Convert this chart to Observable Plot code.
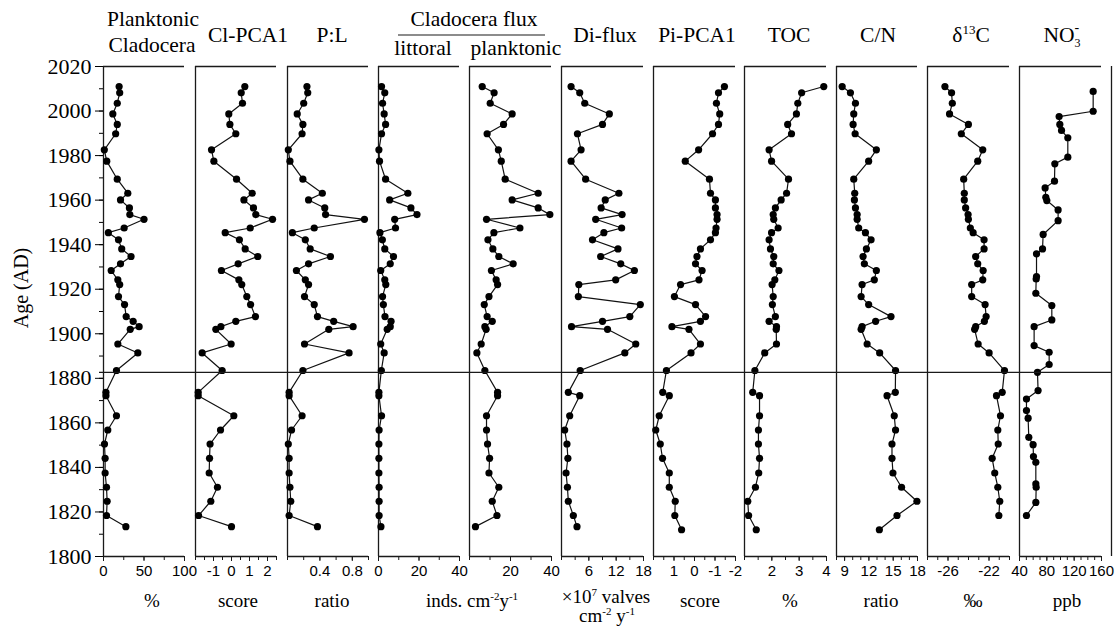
<!DOCTYPE html>
<html>
<head>
<meta charset="utf-8">
<script src="https://cdn.jsdelivr.net/npm/d3@7"></script>
<script src="https://cdn.jsdelivr.net/npm/@observablehq/plot@0.6"></script>
<style>
  body { margin: 0; background: #fff; }
  #chart { position: relative; width: 1120px; height: 626px; overflow: hidden; background: #fff; }
  #chart svg { position: absolute; top: 0; }
</style>
</head>
<body>
<div id="chart"></div>
<script>
// ---------------- data ----------------
const ageClad = [2011.0, 2008.2, 2003.5, 1998.7, 1994.0, 1989.8, 1982.6, 1977.5, 1969.4, 1963.1, 1960.1, 1956.5, 1953.5, 1951.4, 1947.5, 1945.4, 1942.2, 1938.1, 1934.7, 1931.4, 1928.4, 1924.2, 1922.1, 1916.7, 1913.1, 1907.7, 1905.6, 1903.2, 1902.0, 1895.4, 1891.4, 1883.5, 1873.7, 1872.2, 1863.2, 1856.8, 1850.5, 1844.1, 1837.5, 1831.1, 1824.8, 1818.4, 1813.4];
const ageSed = [2011.0, 2008.2, 2003.5, 1998.7, 1994.0, 1989.8, 1982.6, 1977.5, 1969.4, 1963.1, 1960.1, 1956.5, 1953.5, 1951.4, 1947.5, 1945.4, 1942.2, 1938.1, 1934.7, 1931.4, 1928.4, 1924.2, 1922.1, 1916.7, 1913.1, 1907.7, 1905.6, 1903.2, 1902.0, 1895.4, 1891.4, 1883.5, 1873.7, 1872.2, 1863.2, 1856.8, 1850.5, 1844.1, 1837.5, 1831.1, 1824.8, 1818.4, 1812.0];
const ageIso = [2011.0, 2008.2, 2003.5, 1998.7, 1994.0, 1989.8, 1982.6, 1977.5, 1969.4, 1963.1, 1960.1, 1956.5, 1953.5, 1951.4, 1947.5, 1945.4, 1942.2, 1938.1, 1934.7, 1931.4, 1928.4, 1924.2, 1922.1, 1916.7, 1913.1, 1907.7, 1905.6, 1903.2, 1902.0, 1895.4, 1891.4, 1883.5, 1873.7, 1872.2, 1863.2, 1856.8, 1850.5, 1844.1, 1837.5, 1831.1, 1824.8, 1818.4];
const ageNO3 = [2008.8, 1999.9, 1997.5, 1994.0, 1991.3, 1988.0, 1979.3, 1976.3, 1968.5, 1965.5, 1961.3, 1959.8, 1955.6, 1950.8, 1944.6, 1938.1, 1935.9, 1925.7, 1924.6, 1918.2, 1912.7, 1906.2, 1903.2, 1894.7, 1891.7, 1886.2, 1882.7, 1874.5, 1870.7, 1865.5, 1862.1, 1853.5, 1850.2, 1844.9, 1842.3, 1832.6, 1831.1, 1824.3, 1818.4];

const planktonicPct = [19.3, 20, 17, 11.5, 17, 15, 1, 4, 17, 30, 21, 32, 32.5, 50, 25.5, 6, 18.5, 22.5, 34, 21, 9.5, 17.7, 20, 18.5, 26, 28, 36.6, 44, 33, 17.7, 42.4, 16, 3, 3, 16, 5.3, 1.2, 2, 2, 3.7, 4.5, 3.7, 27.6];
const clPCA1 = [0.74, 0.54, 0.61, -0.15, -0.09, 0.24, -1.11, -0.98, 0.28, 1.15, 0.69, 1.22, 1.35, 2.28, 1.04, -0.35, 0.44, 0.76, 1.46, 0.37, -0.56, 0.41, 0.57, 0.85, 1.06, 1.33, 0.24, -0.59, -0.87, -0.02, -1.63, -0.52, -1.85, -1.85, 0.13, -0.61, -1.19, -1.22, -1.24, -0.78, -1.15, -1.83, 0.0];
const plRatio = [0.24, 0.25, 0.20, 0.12, 0.19, 0.18, 0.01, 0.03, 0.19, 0.43, 0.26, 0.46, 0.47, 0.95, 0.33, 0.06, 0.22, 0.28, 0.53, 0.26, 0.11, 0.22, 0.26, 0.21, 0.33, 0.37, 0.57, 0.81, 0.51, 0.21, 0.76, 0.19, 0.02, 0.02, 0.18, 0.05, 0.01, 0.02, 0.02, 0.03, 0.04, 0.02, 0.37];
const littoralFlux = [1.5, 3.1, 2.0, 2.8, 3.5, 1.5, 0.2, 0.5, 3.5, 14.5, 5.5, 16, 19.0, 8.0, 8.4, 0.7, 1.9, 3.1, 7.4, 5.8, 1.1, 3.1, 3.6, 2.0, 2.4, 3.2, 6.2, 5.8, 4.3, 1.1, 2.8, 1.4, 0.2, 0.2, 1.5, 0.3, 0.2, 0.2, 0.2, 0.3, 0.3, 0.3, 1.2];
const planktonicFlux = [6.2, 12.0, 10.1, 20.8, 16.6, 8.6, 14.1, 15.5, 17.4, 33.5, 20.8, 33.5, 39.2, 8.3, 24.6, 11.9, 9.0, 11.4, 14.3, 21.3, 10.7, 13.0, 13.7, 9.5, 7.2, 8.6, 11.1, 7.5, 8.1, 5.7, 3.6, 7.5, 13.7, 13.7, 8.3, 8.3, 8.8, 9.8, 9.5, 14.3, 11.1, 13.4, 2.9];
const diFlux = [2.1, 4.0, 5.1, 10.5, 9.0, 3.5, 4.3, 2.1, 5.3, 12.6, 9.6, 8.7, 13.3, 7.5, 13.2, 9.3, 6.8, 12.4, 8.6, 13.0, 16.0, 11.9, 3.8, 3.7, 17.3, 15.0, 9.0, 2.2, 10.1, 16.3, 13.9, 4.1, 1.5, 4.0, 1.8, 0.7, 1.2, 1.4, 1.0, 1.3, 1.5, 2.6, 3.4];
const piPCA1 = [-1.46, -1.17, -1.07, -1.23, -1.17, -0.88, -0.20, 0.45, -0.73, -0.78, -1.02, -1.02, -1.10, -1.10, -1.05, -1.02, -0.78, -0.29, -0.12, -0.05, -0.37, -0.22, 0.68, 0.98, -0.05, -0.54, -0.29, 1.10, 0.27, -0.29, 0.17, 1.37, 1.55, 1.23, 1.72, 1.89, 1.67, 1.56, 1.23, 1.23, 0.94, 0.96, 0.63];
const toc = [3.90, 3.09, 2.95, 2.90, 2.58, 2.72, 1.90, 1.99, 2.61, 2.54, 2.34, 2.13, 2.05, 2.07, 2.23, 1.99, 1.90, 1.95, 2.07, 2.05, 2.26, 2.11, 2.01, 2.05, 2.02, 2.13, 1.90, 2.17, 2.16, 2.17, 1.74, 1.38, 1.30, 1.55, 1.55, 1.51, 1.51, 1.55, 1.52, 1.40, 1.12, 1.15, 1.43];
const cnRatio = [8.70, 9.72, 10.34, 10.13, 10.05, 10.30, 12.92, 11.97, 10.13, 10.25, 10.21, 10.34, 10.55, 10.55, 10.74, 11.57, 12.27, 11.69, 11.28, 11.44, 12.92, 12.67, 11.16, 11.04, 11.97, 14.73, 12.83, 11.16, 11.04, 11.78, 13.33, 15.29, 15.26, 14.24, 15.13, 15.29, 14.85, 14.85, 14.97, 16.03, 17.93, 15.47, 13.29];
const d13C = [-26.30, -25.65, -25.58, -25.85, -24.01, -24.70, -22.61, -23.10, -24.47, -24.41, -24.41, -24.28, -24.04, -24.01, -23.82, -23.55, -22.48, -22.48, -23.30, -23.10, -22.57, -22.61, -23.69, -23.69, -22.38, -22.28, -22.45, -23.30, -23.40, -23.06, -21.99, -20.49, -20.71, -21.27, -20.88, -21.14, -21.10, -21.69, -21.44, -21.14, -20.95, -21.04];
const no3 = [147.8, 147.8, 98.0, 99.0, 101.5, 110.7, 110.7, 91.7, 91.2, 77.5, 78.5, 80.0, 96.5, 96.5, 74.6, 73.7, 64.9, 64.9, 64.4, 63.9, 87.3, 87.3, 61.4, 61.4, 83.4, 83.4, 66.3, 67.2, 50.2, 50.2, 52.6, 53.6, 59.9, 60.4, 63.9, 63.9, 64.4, 63.9, 50.2];

// tick labels
const yTickLabels = [1800, 1820, 1840, 1860, 1880, 1900, 1920, 1940, 1960, 1980, 2000, 2020];
const boundaryAge = [1882.7];

// ---------------- layout ----------------
const H = 626, TOP = 66, BOTTOM = 556;
const yDomain = [1800, 2020];

const panels = [
  {ages: ageClad, values: planktonicPct, left: 103, right: 184, domain: [0, 100], labels: [0, 50, 100], minor: d3.range(0, 101, 25)},
  {ages: ageClad, values: clPCA1, left: 195, right: 276, domain: [-2, 2.5], labels: [-1, 0, 1, 2], minor: d3.range(-2, 2.51, 0.5)},
  {ages: ageClad, values: plRatio, left: 287, right: 368, domain: [0, 1], labels: [0.4, 0.8], minor: d3.range(0, 1.01, 0.2)},
  {ages: ageClad, values: littoralFlux, left: 378, right: 459, domain: [0, 40], labels: [0, 20, 40], minor: d3.range(0, 41, 10)},
  {ages: ageClad, values: planktonicFlux, left: 469, right: 551, domain: [0, 40], labels: [20, 40], minor: d3.range(0, 41, 10)},
  {ages: ageClad, values: diFlux, left: 561, right: 643, domain: [0, 18], labels: [6, 12, 18], minor: d3.range(0, 18.1, 3)},
  {ages: ageSed, values: piPCA1, left: 653, right: 735, domain: [2, -2], labels: [1, 0, -1, -2], minor: d3.range(-2, 2.01, 0.5)},
  {ages: ageSed, values: toc, left: 744, right: 826, domain: [1, 4], labels: [2, 3, 4], minor: d3.range(1, 4.01, 0.5)},
  {ages: ageSed, values: cnRatio, left: 836, right: 917, domain: [8, 18], labels: [9, 12, 15, 18], minor: d3.range(8, 18.1, 1)},
  {ages: ageIso, values: d13C, left: 927, right: 1009, domain: [-28, -20], labels: [-26, -22], minor: d3.range(-28, -19.9, 1)},
  {ages: ageNO3, values: no3, left: 1019, right: 1101, domain: [40, 160], labels: [40, 80, 120, 160], minor: d3.range(40, 161, 10)}
];

const chart = document.getElementById("chart");
const frameStyle = {stroke: "#1a1a1a", strokeWidth: 1.3};

panels.forEach((p, i) => {
  const mL = i === 0 ? p.left : 10;
  const mR = 10;
  const width = p.right - p.left + mL + mR;
  const data = p.ages.map((a, j) => ({age: a, v: p.values[j]}));
  const marks = [
    Plot.ruleY([yDomain[1]], frameStyle),
    Plot.ruleY([yDomain[0]], frameStyle),
    Plot.ruleX([p.domain[0]], frameStyle),
    Plot.axisX({ticks: p.minor, tickSize: 4, tickFormat: () => "", label: null, stroke: "#1a1a1a"}),
    Plot.axisX({ticks: p.labels, tickSize: 5, tickPadding: 4, tickFormat: d => String(d), label: null,
      fontSize: 15, fontFamily: "Liberation Sans", stroke: "#1a1a1a"}),
    Plot.line(data, {x: "v", y: "age", stroke: "#111", strokeWidth: 1.2}),
    Plot.dot(data, {x: "v", y: "age", r: 3.6, fill: "#000"})
  ];
  if (i === 0) {
    marks.push(
      Plot.axisY({ticks: yTickLabels, tickSize: 8, tickPadding: 4, label: null, tickFormat: d => String(d),
        fontSize: 22, fontFamily: "Liberation Serif"}),
      Plot.axisY({ticks: d3.range(1800, 2021, 10), tickSize: 4, tickFormat: () => "", label: null})
    );
  }
  const svg = Plot.plot({
    width, height: H,
    marginLeft: mL, marginRight: mR, marginTop: TOP, marginBottom: H - BOTTOM,
    x: {domain: p.domain, label: null},
    y: {domain: yDomain, label: null, axis: i === 0 ? undefined : null},
    style: {background: "transparent", overflow: "visible", fontFamily: "Liberation Sans", fontSize: "15px", color: "#000"},
    marks
  });
  svg.style.left = (p.left - mL) + "px";
  chart.appendChild(svg);
});

// boundary line across all panels and right border
{
  const mL = 99, mR = 9;
  const svg = Plot.plot({
    width: 1120, height: H,
    marginLeft: mL, marginRight: mR, marginTop: TOP, marginBottom: H - BOTTOM,
    x: {domain: [0, 1], axis: null},
    y: {domain: yDomain, axis: null},
    style: {background: "transparent", overflow: "visible"},
    marks: [
      Plot.ruleY(boundaryAge, {stroke: "#1a1a1a", strokeWidth: 1.3}),
      Plot.ruleX([1], frameStyle)
    ]
  });
  svg.style.left = "0px";
  chart.appendChild(svg);
}

// ---------------- text (titles / units) ----------------
const ov = d3.create("svg").attr("width", 1120).attr("height", H)
  .style("left", "0px").style("top", "0px")
  .attr("font-family", "Liberation Serif").attr("fill", "#000");

function txt(x, y, size, parts) {
  const t = ov.append("text").attr("x", x).attr("y", y).attr("font-size", size).attr("text-anchor", "middle");
  parts.forEach(pt => {
    const s = t.append("tspan").attr("font-size", size);
    if (typeof pt === "string") s.text(pt);
    else {
      s.text(pt.t);
      if (pt.size) s.attr("font-size", pt.size);
      if (pt.dy) s.attr("dy", pt.dy);
      if (pt.dx) s.attr("dx", pt.dx);
    }
  });
}

const TS = 21.5;
txt(153, 26, TS, ["Planktonic"]);
txt(152, 52, TS, ["Cladocera"]);
txt(248, 42, TS, ["Cl-PCA1"]);
txt(332, 42, TS, ["P:L"]);
txt(474, 26, TS, ["Cladocera flux"]);
ov.append("line").attr("x1", 398).attr("x2", 545).attr("y1", 35).attr("y2", 35).attr("stroke", "#1a1a1a").attr("stroke-width", 1.2);
txt(423, 55, TS, ["littoral"]);
txt(516, 55, TS, ["planktonic"]);
txt(605, 42, TS, ["Di-flux"]);
txt(697, 42, TS, ["Pi-PCA1"]);
txt(789, 42, TS, ["TOC"]);
txt(878, 42, TS, ["C/N"]);
txt(971, 42, TS, ["δ", {t: "13", size: 13, dy: -8}, {t: "C", dy: 8}]);
txt(1062, 42, TS, ["NO", {t: "3", size: 12, dy: 5}, {t: "-", size: 14, dx: -6, dy: -15}]);

const US = 19;
txt(152, 607, US, ["%"]);
txt(238, 607, US, ["score"]);
txt(332, 607, US, ["ratio"]);
txt(472, 607, US, ["inds. cm", {t: "-2", size: 11, dy: -7}, {t: "y", size: US, dy: 7}, {t: "-1", size: 11, dy: -7}]);
txt(606, 603, US, ["×10", {t: "7", size: 11, dy: -7}, {t: " valves", size: US, dy: 7}]);
txt(607, 622, US, ["cm", {t: "-2", size: 11, dy: -7}, {t: " y", size: US, dy: 7}, {t: "-1", size: 11, dy: -7}]);
txt(700, 607, US, ["score"]);
txt(790, 607, US, ["%"]);
txt(881, 607, US, ["ratio"]);
txt(973, 607, US, ["‰"]);
txt(1067, 607, US, ["ppb"]);

ov.append("text").attr("transform", "translate(28,288) rotate(-90)")
  .attr("text-anchor", "middle").attr("font-size", 20).text("Age (AD)");

chart.appendChild(ov.node());
</script>
</body>
</html>
